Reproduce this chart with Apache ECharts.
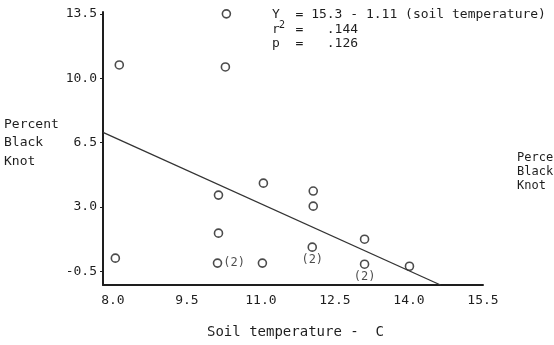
<!DOCTYPE html>
<html>
<head>
<meta charset="utf-8">
<script src="https://cdn.jsdelivr.net/npm/echarts@6/dist/echarts.min.js"></script>
<style>
  html, body { margin: 0; padding: 0; background: #fff; }
  #chart { width: 554px; height: 345px; }
</style>
</head>
<body>
<div id="chart"></div>
<script>
// soil temperature (C) of each plot
var soilTemp = [8.13, 10.30, 10.28, 8.05, 10.14, 10.14, 10.12, 11.03, 11.05, 12.06, 12.06, 12.04, 13.10, 13.10, 14.01];
// percent black knot
var blackKnot = [10.72, 13.5, 10.61, 0.21, 3.64, 1.57, -0.06, -0.06, 4.29, 3.86, 3.04, 0.81, 1.24, -0.12, -0.23];
// how many plots share the point
var plotCount = [1, 1, 1, 1, 1, 1, 2, 1, 1, 1, 1, 2, 1, 2, 1];
// fitted line as drawn
var fitX = [7.8, 14.64];
var fitY = [7.05, -1.25];
var xTicks = [8.0, 9.5, 11.0, 12.5, 14.0, 15.5];
var yTicks = [-0.5, 3.0, 6.5, 10.0, 13.5];

var FONT = '"DejaVu Sans Mono", "Liberation Mono", monospace';
var INK = '#1e1e1e';

var points = [];
for (var i = 0; i < soilTemp.length; i++) {
    var p = { value: [soilTemp[i], blackKnot[i]] };
    if (plotCount[i] > 1) {
        // first one has the count beside it, the others below
        p.label = {
            show: true,
            formatter: '(' + plotCount[i] + ')',
            position: i === 6 ? 'right' : 'bottom',
            distance: i === 6 ? 1 : 2
        };
    }
    points.push(p);
}

var fitLine = [];
for (var j = 0; j < fitX.length; j++) {
    fitLine.push([fitX[j], fitY[j]]);
}

function txt(x, y, s, size) {
    return {
        type: 'text', left: x, top: y, silent: true,
        style: { text: s, fill: INK, font: (size || 13) + 'px ' + FONT }
    };
}

var chart = echarts.init(document.getElementById('chart'));
var option = {
    backgroundColor: '#fff',
    animation: false,
    grid: { left: 103, right: 71, top: 12, bottom: 60, outerBoundsMode: 'none' },
    xAxis: {
        type: 'value', min: 7.8, max: 15.5,
        splitLine: { show: false },
        axisLine: { onZero: false, lineStyle: { color: INK, width: 2 } },
        axisTick: { show: false },
        axisLabel: {
            customValues: xTicks, margin: 9,
            color: INK, fontFamily: FONT, fontSize: 13,
            formatter: function(v) { return v.toFixed(1); }
        }
    },
    yAxis: {
        type: 'value', min: -1.25, max: 13.6,
        splitLine: { show: false },
        axisLine: { show: true, onZero: false, lineStyle: { color: INK, width: 2 } },
        axisTick: { show: true, customValues: yTicks, length: 3, lineStyle: { color: INK } },
        axisLabel: {
            customValues: yTicks, margin: 6,
            color: INK, fontFamily: FONT, fontSize: 13,
            formatter: function(v) { return v.toFixed(1); }
        }
    },
    series: [{
        type: 'scatter',
        data: points,
        symbol: 'circle',
        symbolSize: 8,
        itemStyle: { color: '#fff', borderColor: INK, borderWidth: 1.6 },
        label: { color: INK, fontFamily: FONT, fontSize: 12 }
    }, {
        type: 'line',
        data: fitLine,
        symbol: 'none',
        lineStyle: { color: '#333', width: 1.3 }
    }],
    graphic: [
        txt(272, 8, 'Y  = 15.3 - 1.11 (soil temperature)'),
        txt(272, 23, 'r  =   .144'),
        txt(279, 20, '2', 10),
        txt(272, 37, 'p  =   .126'),
        txt(4, 118, 'Percent'),
        txt(4, 136, 'Black'),
        txt(4, 155, 'Knot'),
        txt(517, 152, 'Percent', 12),
        txt(517, 166, 'Black', 12),
        txt(517, 180, 'Knot', 12),
        txt(207, 325, 'Soil temperature -  C', 14)
    ]
};
chart.setOption(option);
</script>
</body>
</html>
